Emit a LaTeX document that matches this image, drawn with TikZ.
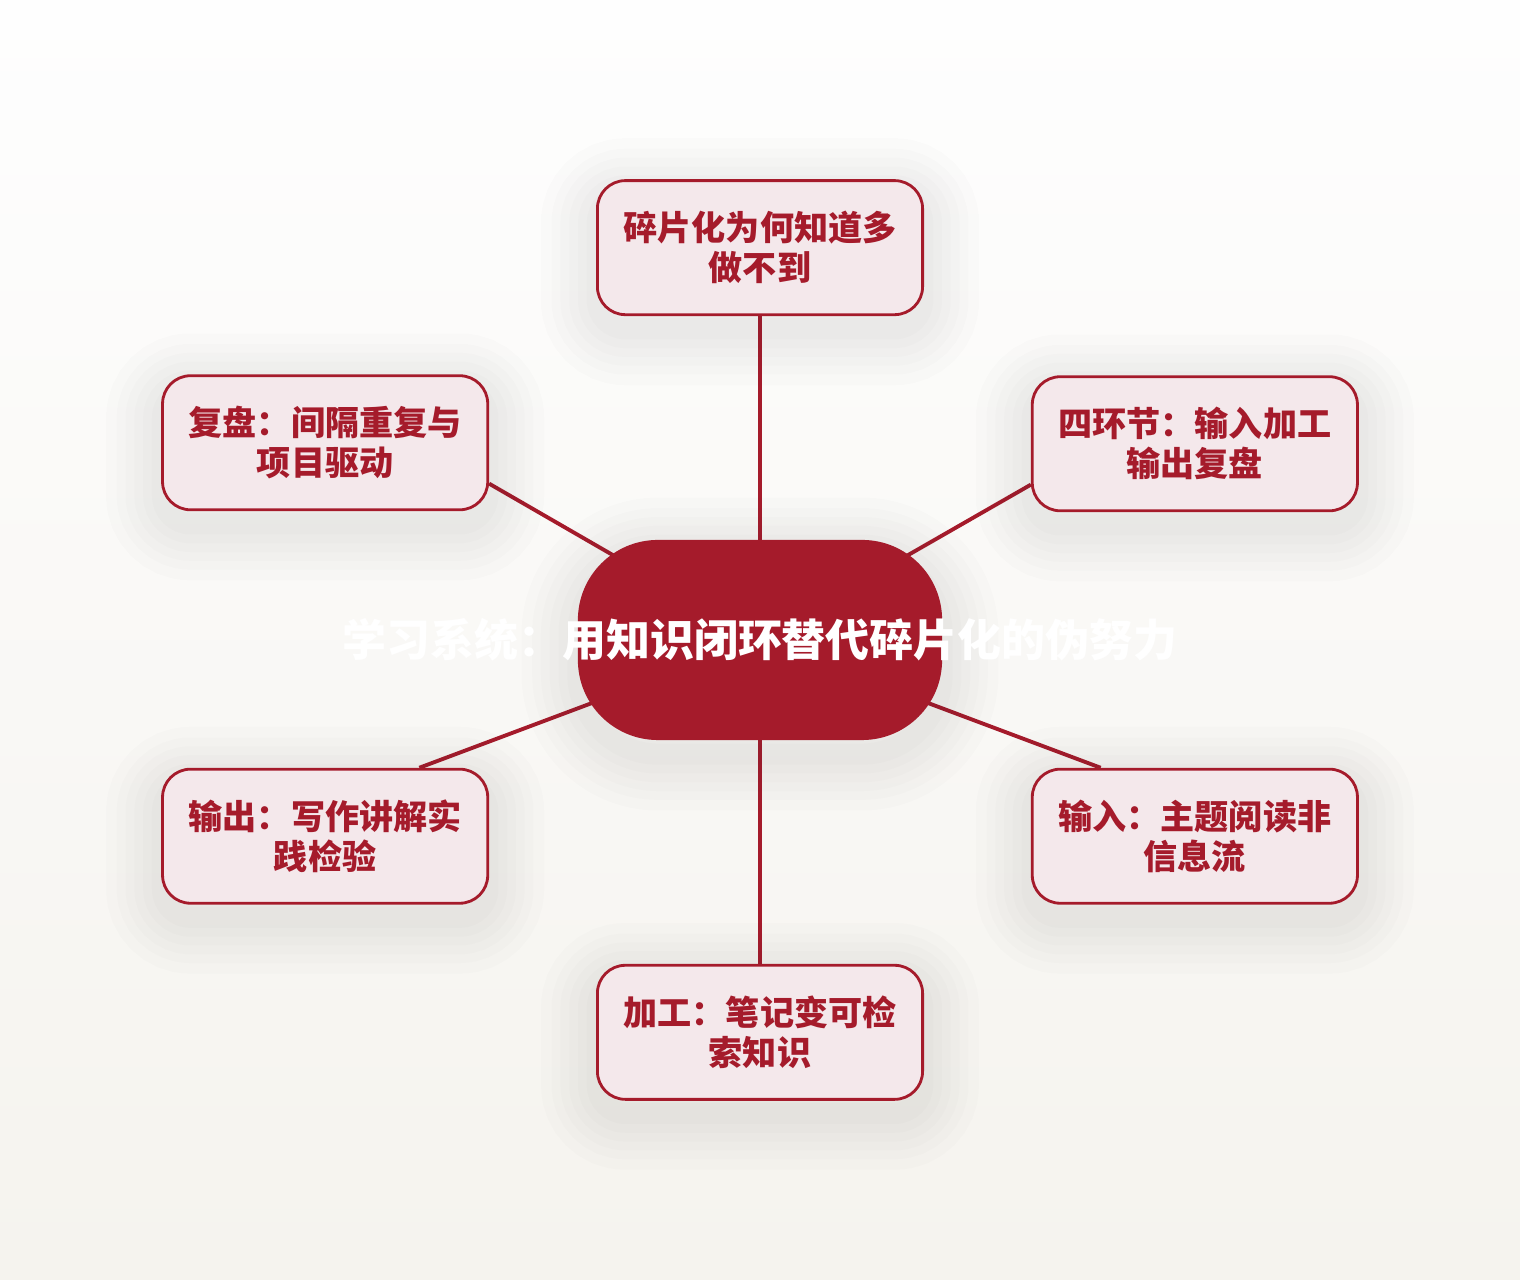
\documentclass[tikz,border=0pt]{standalone}
\usepackage{fontspec}
\setmainfont{Noto Sans CJK SC}
\usetikzlibrary{positioning}
\definecolor{deepred}{HTML}{A51B2B}
\definecolor{blush}{HTML}{F4E8EB}
\definecolor{paper}{HTML}{FEFEFE}
\definecolor{sand}{HTML}{F5F3EE}
\pgfdeclarelayer{bg}
\pgfdeclarelayer{back}
\pgfsetlayers{bg,back,main}
\tikzset{
  halo/.style={preaction={draw=black!70, draw opacity=0.017, line width=#1, transform canvas={yshift=-4pt}}},
  soft/.style={halo=32pt, halo=26pt, halo=21pt, halo=16pt, halo=11pt, halo=6pt},
  topic/.style={
    soft, draw=deepred, line width=0.8pt, fill=blush,
    rounded corners=0.28cm,
    minimum width=3.25cm, minimum height=1.34cm,
    align=center, text=deepred,
    font=\bfseries\fontsize{9.7}{11.4}\selectfont
  },
  hub/.style={
    soft, fill=deepred, rounded corners=0.8cm,
    minimum width=3.64cm, minimum height=2cm,
    text=white, font=\bfseries\fontsize{12.5}{15}\selectfont
  },
  link/.style={draw=deepred, line width=1.1pt}
}
\begin{document}
\begin{tikzpicture}[x=0.01cm, y=-0.01cm]

\begin{pgfonlayer}{bg}
\shade[top color=paper, bottom color=sand] (0,0) rectangle (1520,1280);
\end{pgfonlayer}

\node [hub] at (760,640) (c) {\makebox[0pt]{学习系统：用知识闭环替代碎片化的伪努力}};

\node [topic, above=2.23cm of c] (why) {碎片化为何知道多\\做不到};
\node [topic, above right=0.27cm and 0.88cm of c] (loop) {四环节：输入加工\\输出复盘};
\node [topic, below right=0.27cm and 0.88cm of c] (input) {输入：主题阅读非\\信息流};
\node [topic, below=2.23cm of c] (work) {加工：笔记变可检\\索知识};
\node [topic, below left=0.27cm and 0.88cm of c] (output) {输出：写作讲解实\\践检验};
\node [topic, above left=0.28cm and 0.88cm of c] (review) {复盘：间隔重复与\\项目驱动};

\begin{pgfonlayer}{back}
\foreach \x in {why,work} \draw [link] (\x) -- (c.center);
\draw [link] (loop.194) -- (c.center);
\draw [link] (input.144) -- (c.center);
\draw [link] (output.36) -- (c.center);
\draw [link] (review.-14) -- (c.center);
\end{pgfonlayer}

\end{tikzpicture}
\end{document}
